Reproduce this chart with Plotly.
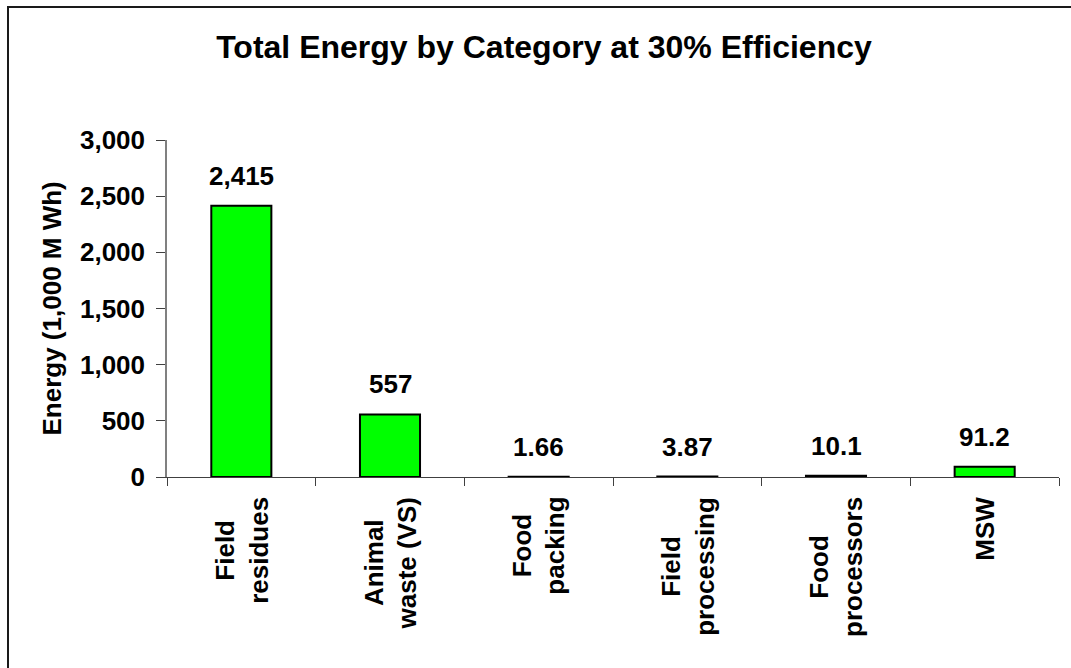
import plotly.graph_objects as go

# Energy recoverable per feedstock category (1,000 MWh) at 30% conversion efficiency
categories = ["Field residues", "Animal waste (VS)", "Food packing",
              "Field processing", "Food processors", "MSW"]
tick_labels = ["Field<br>residues", "Animal<br>waste (VS)", "Food<br>packing",
               "Field<br>processing", "Food<br>processors", "MSW"]
energy = [2415, 557, 1.66, 3.87, 10.1, 91.2]
value_labels = ["2,415", "557", "1.66", "3.87", "10.1", "91.2"]

y_ticks = [0, 500, 1000, 1500, 2000, 2500, 3000]
y_tick_text = ["0", "500", "1,000", "1,500", "2,000", "2,500", "3,000"]

FONT = "Liberation Sans, Arial, sans-serif"
W, H = 1071, 668
L, R, T, B = 167, 12, 140, 191
pw, ph = W - L - R, H - T - B


def px_x(x):
    return (x - L) / pw


def px_y(y):
    return (H - B - y) / ph


fig = go.Figure()
fig.add_trace(go.Bar(
    x=categories,
    y=energy,
    marker=dict(color="#00FF00", line=dict(color="#000000", width=2)),
    hoverinfo="x+y",
))

annotations = []
# value labels above each bar
for c, v, t in zip(categories, energy, value_labels):
    annotations.append(dict(
        x=c, y=v, xref="x", yref="y", text=f"<b>{t}</b>", showarrow=False,
        xanchor="center", yanchor="bottom", yshift=13,
        font=dict(family=FONT, size=26, color="#000000"),
    ))
# rotated category labels under the axis
for c, t in zip(categories, tick_labels):
    annotations.append(dict(
        x=c, y=px_y(495), xref="x", yref="paper",
        text="<b>" + t.replace("<br>", "</b><br><b>") + "</b>",
        showarrow=False, textangle=-90, align="center",
        xanchor="center", yanchor="top",
        font=dict(family=FONT, size=26, color="#000000"),
    ))
# y-axis title
annotations.append(dict(
    x=px_x(51), y=0.5, xref="paper", yref="paper",
    text="<b>Energy (1,000 M Wh)</b>", showarrow=False, textangle=-90,
    xanchor="center", yanchor="middle",
    font=dict(family=FONT, size=26, color="#000000"),
))

fig.update_layout(
    width=W, height=H,
    margin=dict(l=L, r=R, t=T, b=B, pad=0),
    paper_bgcolor="white", plot_bgcolor="white",
    showlegend=False,
    bargap=0.596,
    title=dict(
        text="<b>Total Energy by Category at 30% Efficiency</b>",
        x=544 / W, xanchor="center", xref="container",
        y=1 - 36 / H, yanchor="top", yref="container",
        font=dict(family=FONT, size=32, color="#000000"),
    ),
    xaxis=dict(
        type="category",
        showticklabels=False,
        showline=True, linecolor="#404040", linewidth=1,
        ticks="outside", tickson="boundaries", ticklen=8,
        tickcolor="#404040", tickwidth=1,
        showgrid=False, zeroline=False,
    ),
    yaxis=dict(
        range=[0, 3000],
        tickvals=y_ticks, ticktext=[f"<b>{t}</b>" for t in y_tick_text],
        tickfont=dict(family=FONT, size=26, color="#000000"),
        ticklabelstandoff=6,
        showline=True, linecolor="#808080", linewidth=1.5,
        ticks="outside", ticklen=9, tickcolor="#404040", tickwidth=1,
        showgrid=False, zeroline=False,
    ),
    annotations=annotations,
    shapes=[dict(
        type="rect", xref="paper", yref="paper",
        x0=px_x(8), x1=px_x(W + 20), y0=px_y(H + 20), y1=px_y(7),
        line=dict(color="#1a1a1a", width=2), fillcolor="rgba(0,0,0,0)",
        layer="below",
    )],
)

fig.write_html("out.html")
